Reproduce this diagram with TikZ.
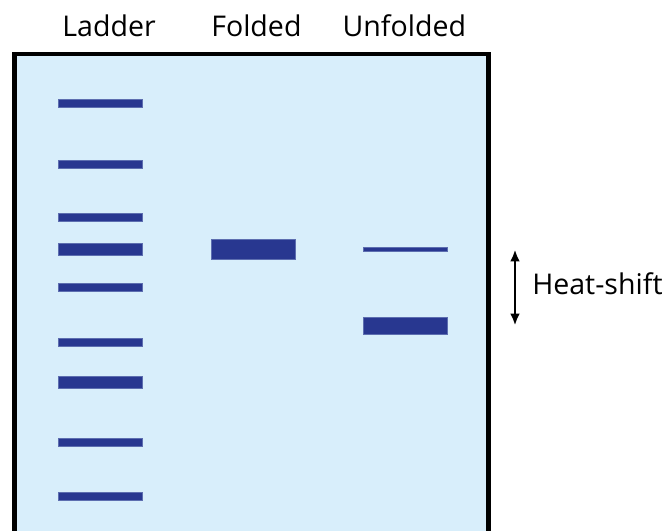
\documentclass[tikz,border=0pt]{standalone}
\usepackage{fontspec}
\setmainfont{Open Sans}
\usepackage{tikz}
\usetikzlibrary{arrows.meta,positioning,calc}
\definecolor{GelBlue}{HTML}{D8EEFB}
\definecolor{BandBlue}{HTML}{283790}

\begin{document}
\begin{tikzpicture}[>=Latex, font=\fontsize{20.3}{23}\selectfont,
    band/.style={fill=BandBlue, draw=BandBlue!70!GelBlue, line width=0.3pt},
    lane/.style={anchor=base}]
    \useasboundingbox (0,0) rectangle (16.675,13.275);
    \clip (0,0) rectangle (16.675,13.275);
    % gel
    \draw[fill=GelBlue, line width=2.85pt] (0.3625,-0.5) -- (0.3625,11.9125)
      -- (12.2125,11.9125) -- (12.2125,-0.5);
    % lane labels
    \node[lane] (ladder) at (2.725,12.36) {Ladder};
    \node[lane] (folded) at (6.41,12.36) {Folded};
    \node[lane] (unfolded) at (10.11,12.36) {Unfolded};
    % ladder bands
    \foreach \y/\h in {10.6875/0.1, 9.1625/0.1, 7.85/0.1, 7.0375/0.15, 6.0875/0.1,
                       4.725/0.1, 3.725/0.15, 2.2125/0.1, 0.875/0.1}
      \draw[band] (1.45,\y-\h) rectangle (3.55,\y+\h);
    % folded sample
    \draw[band] (5.275,6.8) rectangle (7.375,7.3);
    % unfolded sample
    \draw[band] (9.075,6.9825) rectangle (11.175,7.0925);
    \draw[band] (9.075,4.925) rectangle (11.175,5.35);
    % heat shift
    \coordinate (shifttop) at (12.875,7.0375);
    \coordinate (shiftbot) at (12.875,5.1375);
    \draw[<->, line width=1.9pt, >={Latex[length=8.5pt,width=7pt]}] (shifttop) -- (shiftbot);
    \node[anchor=base west, inner xsep=0pt] (heatshift) at (13.3,5.9) {Heat-shift};
  \end{tikzpicture}
\end{document}
